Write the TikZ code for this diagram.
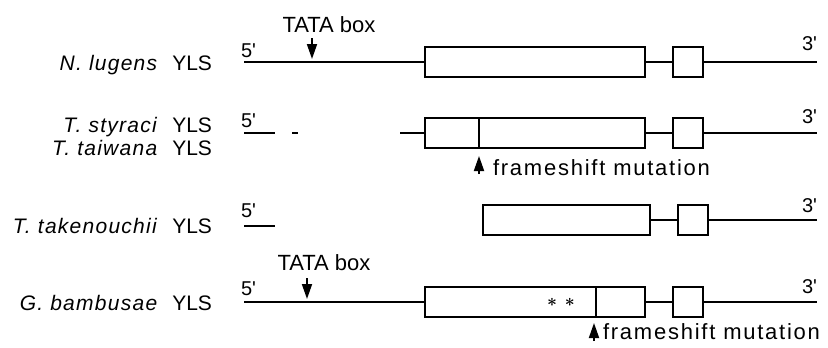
\documentclass[tikz,border=0pt]{standalone}
\usepackage{fontspec}
\setmainfont{Liberation Sans}
\usetikzlibrary{arrows.meta, positioning}

\newcommand{\spname}[1]{\textit{\addfontfeature{LetterSpace=6}#1}\hspace{8pt} YLS}

\begin{document}
\begin{tikzpicture}[
x=1pt, y=-1pt,
every node/.style={font=\fontsize{21}{24}\selectfont, inner sep=0pt, outer sep=0pt},
exon/.style={draw, rectangle, line width=2pt, minimum height=30pt, anchor=west},
intron/.style={line width=1.6pt},
species/.style={anchor=base east},
prime/.style={font=\fontsize{20}{24}\selectfont},
tata/.style={font=\fontsize{22}{24}\selectfont, anchor=base},
frameshift/.style={font=\fontsize{22}{24}\selectfont\addfontfeature{LetterSpace=8}, anchor=base west},
mark stars/.style={font=\fontsize{18}{18}\selectfont\boldmath},
pointer/.style={line width=1.8pt, -{Triangle[length=15pt, width=10pt]}}
]
\useasboundingbox (0,0) rectangle (828,348);

\node[species] (nl) at (212,70) {\spname{N. lugens}};
\node[species] (ts) at (212,132) {\spname{T. styraci}};
\node[species] (tt) at (212,155) {\spname{T. taiwana}};
\node[species] (tk) at (212,233) {\spname{T. takenouchii}};
\node[species] (gb) at (212,310) {\spname{G. bambusae}};

\node[exon, minimum width=220pt] (nl1) at (425,62) {};
\node[exon, minimum width=30pt] (nl2) at (673,62) {};
\coordinate (nl5) at (244,62);
\coordinate (nl3) at (817,62);
\draw[intron] (nl5) -- (nl1.west);
\draw[intron] (nl1.east) -- (nl2.west);
\draw[intron] (nl2.east) -- (nl3);
\node[prime, anchor=base west] (nl5t) at (241,57) {5\textquotesingle};
\node[prime, anchor=base east] (nl3t) at (817,50) {3\textquotesingle};
\node[tata] (nltata) at (329,32) {TATA box};
\coordinate (nltataa) at (312,38);
\coordinate (nltatab) at (312,59);
\draw[pointer] (nltataa) -- (nltatab);

\node[exon, minimum width=54pt] (ts1) at (425,133) {};
\node[exon, minimum width=166pt] (ts2) at (479,133) {};
\node[exon, minimum width=30pt] (ts3) at (673,133) {};
\coordinate (ts5a) at (244,133);
\coordinate (ts5b) at (275,133);
\coordinate (ts5c) at (292,133);
\coordinate (ts5d) at (298,133);
\coordinate (ts5e) at (400,133);
\coordinate (ts3e) at (817,133);
\draw[intron] (ts5a) -- (ts5b);
\draw[intron] (ts5c) -- (ts5d);
\draw[intron] (ts5e) -- (ts1.west);
\draw[intron] (ts2.east) -- (ts3.west);
\draw[intron] (ts3.east) -- (ts3e);
\node[prime, anchor=base west] (ts5t) at (241,127) {5\textquotesingle};
\node[prime, anchor=base east] (ts3t) at (817,123) {3\textquotesingle};
\coordinate (tsfsa) at (479,174);
\coordinate (tsfsb) at (479,156);
\draw[pointer] (tsfsa) -- (tsfsb);
\node[frameshift] (tsfs) at (493,175) {frameshift mutation};

\node[exon, minimum width=167pt] (tk1) at (483,220) {};
\node[exon, minimum width=30pt] (tk2) at (678,220) {};
\coordinate (tk5a) at (244,226);
\coordinate (tk5b) at (275,226);
\coordinate (tk3e) at (817,220);
\draw[intron] (tk5a) -- (tk5b);
\draw[intron] (tk1.east) -- (tk2.west);
\draw[intron] (tk2.east) -- (tk3e);
\node[prime, anchor=base west] (tk5t) at (241,217) {5\textquotesingle};
\node[prime, anchor=base east] (tk3t) at (817,212) {3\textquotesingle};

\node[exon, minimum width=171pt] (gb1) at (425,302) {};
\node[exon, minimum width=49pt] (gb2) at (596,302) {};
\node[exon, minimum width=30pt] (gb3) at (673,302) {};
\coordinate (gb5) at (244,302);
\coordinate (gb3e) at (817,302);
\draw[intron] (gb5) -- (gb1.west);
\draw[intron] (gb2.east) -- (gb3.west);
\draw[intron] (gb3.east) -- (gb3e);
\node[prime, anchor=base west] (gb5t) at (241,295) {5\textquotesingle};
\node[prime, anchor=base east] (gb3t) at (817,293) {3\textquotesingle};
\node[mark stars] (stars) at (561,302) {$\ast$\hspace{8pt}$\ast$};
\node[tata] (gbtata) at (324,270) {TATA box};
\coordinate (gbtataa) at (307,278);
\coordinate (gbtatab) at (307,299);
\draw[pointer] (gbtataa) -- (gbtatab);
\coordinate (gbfsa) at (594,341);
\coordinate (gbfsb) at (594,323);
\draw[pointer] (gbfsa) -- (gbfsb);
\node[frameshift] (gbfs) at (603,339) {frameshift mutation};

\end{tikzpicture}
\end{document}
